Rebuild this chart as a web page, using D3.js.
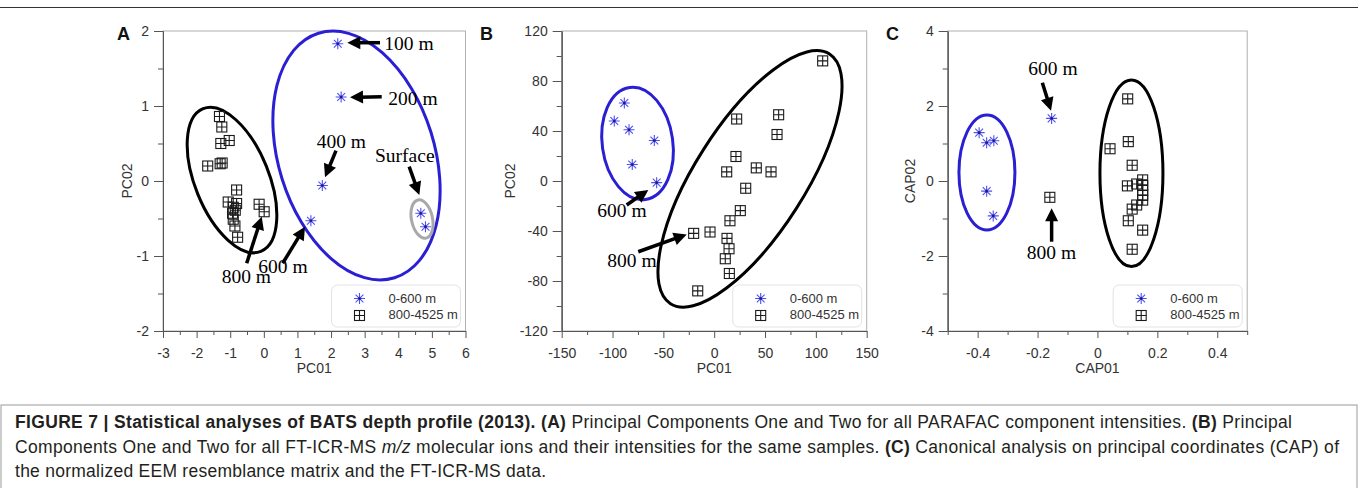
<!DOCTYPE html>
<html lang="en">
<head>
<meta charset="UTF-8">
<title>Figure 7</title>
<script src="https://d3js.org/d3.v7.min.js"></script>
<style>
  body { margin: 0; background: #fff; }
  svg { display: block; }
</style>
</head>
<body>
<div id="chart"></div>
<script>
// legend labels
const seriesNames = ["0-600 m", "800-4525 m"];

// panel A: PC01 vs PC02, PARAFAC intensities
const aShallow = [[2.20, 1.83], [2.30, 1.12], [1.74, -0.06], [1.40, -0.53], [4.67, -0.43], [4.81, -0.61]];
const aDeep = [[-1.32, 0.86], [-1.25, 0.72], [-1.28, 0.50], [-1.03, 0.54], [-1.67, 0.20], [-1.30, 0.23],
  [-1.24, 0.24], [-0.81, -0.12], [-1.06, -0.28], [-0.81, -0.30], [-0.91, -0.35], [-0.85, -0.39],
  [-0.93, -0.43], [-0.91, -0.51], [-0.86, -0.60], [-0.78, -0.75], [-0.14, -0.31], [0.01, -0.41]];
const aXTicks = [-3, -2, -1, 0, 1, 2, 3, 4, 5, 6];
const aXMinor = [-2.5, -1.5, -0.5, 0.5, 1.5, 2.5, 3.5, 4.5, 5.5];
const aYTicks = [-2, -1, 0, 1, 2];
const aYMinor = [-1.5, -0.5, 0.5, 1.5];

// panel B: PC01 vs PC02, FT-ICR-MS
const bShallow = [[-88.4, 62.4], [-98.3, 48.0], [-83.8, 41.0], [-58.9, 32.4], [-80.6, 13.2], [-56.6, -1.3]];
const bDeep = [[106.7, 96.1], [22.1, 49.6], [63.4, 53.0], [61.8, 37.2], [21.4, 19.6], [12.3, 7.3],
  [41.4, 10.5], [55.9, 7.3], [31.0, -5.8], [25.7, -23.7], [15.5, -31.8], [-20.2, -41.9], [-4.1, -40.8],
  [12.6, -45.9], [14.6, -54.2], [10.9, -62.2], [14.9, -74.0], [-16.2, -87.9]];
const bXTicks = [-150, -100, -50, 0, 50, 100, 150];
const bXMinor = [-125, -75, -25, 25, 75, 125];
const bYTicks = [-120, -80, -40, 0, 40, 80, 120];
const bYMinor = [-100, -60, -20, 20, 60, 100];

// panel C: CAP01 vs CAP02
const cShallow = [[-0.395, 1.29], [-0.370, 1.02], [-0.346, 1.075], [-0.370, -0.27], [-0.348, -0.93], [-0.153, 1.67]];
const cDeep = [[-0.159, -0.435], [0.101, 2.19], [0.103, 1.05], [0.042, 0.86], [0.116, 0.42], [0.100, -0.13],
  [0.131, -0.08], [0.151, 0.03], [0.151, -0.12], [0.151, -0.25], [0.151, -0.38], [0.151, -0.51],
  [0.131, -0.64], [0.116, -0.75], [0.103, -1.06], [0.151, -1.31], [0.116, -1.82]];
const cXTicks = [-0.4, -0.2, 0, 0.2, 0.4];
const cXMinor = [-0.5, -0.3, -0.1, 0.1, 0.3, 0.5];
const cYTicks = [-4, -2, 0, 2, 4];
const cYMinor = [-3, -1, 1, 3];

// caption lines, [text, style]
const captionLines = [
  [["FIGURE 7 | Statistical analyses of BATS depth profile (2013). ", "b"], ["(A)", "b"],
   [" Principal Components One and Two for all PARAFAC component intensities. ", ""], ["(B)", "b"], [" Principal", ""]],
  [["Components One and Two for all FT-ICR-MS ", ""], ["m/z", "i"],
   [" molecular ions and their intensities for the same samples. ", ""], ["(C)", "b"],
   [" Canonical analysis on principal coordinates (CAP) of", ""]],
  [["the normalized EEM resemblance matrix and the FT-ICR-MS data.", ""]]
];

const W = 1358, H = 488;
const plotTop = 31, plotBottom = 331;
const sans = "'Liberation Sans', Arial, sans-serif";
const serif = "'Liberation Serif', 'Times New Roman', serif";

const svg = d3.select("#chart").append("svg")
  .attr("width", W).attr("height", H)
  .style("background", "#fff");

// top rule
svg.append("line").attr("x1", 0).attr("x2", W).attr("y1", 7.5).attr("y2", 7.5)
  .attr("stroke", "#333").attr("stroke-width", 1.2);

function star(sel) {
  sel.append("path")
    .attr("d", "M-5.5,0H5.5M0,-5.5V5.5M-3.9,-3.9L3.9,3.9M-3.9,3.9L3.9,-3.9")
    .attr("stroke", "#4f4ff2").attr("stroke-width", 1.1);
  sel.append("circle").attr("r", 1.3).attr("fill", "#1b1b80");
}

function box(sel) {
  sel.append("rect").attr("x", -5).attr("y", -5).attr("width", 10).attr("height", 10)
    .attr("fill", "none").attr("stroke", "#1a1a1a").attr("stroke-width", 1.1);
  sel.append("path").attr("d", "M-5,0H5M0,-5V5")
    .attr("stroke", "#1a1a1a").attr("stroke-width", 1.1);
}

function drawPanel(p) {
  const x = d3.scaleLinear().domain(p.xDomain).range([p.left, p.right]);
  const y = d3.scaleLinear().domain(p.yDomain).range([plotBottom, plotTop]);
  const g = svg.append("g");

  // frame
  g.append("rect")
    .attr("x", p.left).attr("y", plotTop)
    .attr("width", p.right - p.left).attr("height", plotBottom - plotTop)
    .attr("fill", "none").attr("stroke", "#b0b0b0");

  // axes
  const fmt = d => String(d);
  const styleAxis = a => {
    a.selectAll("line").attr("stroke", "#555");
    a.select(".domain").attr("stroke", "#555");
    a.selectAll("text").attr("font-family", sans).attr("font-size", 14).attr("fill", "#333");
  };
  g.append("g").attr("transform", `translate(0,${plotBottom})`)
    .call(d3.axisBottom(x).tickValues(p.xTicks).tickSize(7).tickPadding(10).tickSizeOuter(0).tickFormat(fmt))
    .call(styleAxis);
  g.append("g").attr("transform", `translate(0,${plotBottom})`)
    .call(d3.axisBottom(x).tickValues(p.xMinor).tickSize(4).tickSizeOuter(0).tickFormat(""))
    .call(styleAxis);
  g.append("g").attr("transform", `translate(${p.left},0)`)
    .call(d3.axisLeft(y).tickValues(p.yTicks).tickSize(9).tickPadding(5).tickSizeOuter(0).tickFormat(fmt))
    .call(styleAxis);
  g.append("g").attr("transform", `translate(${p.left},0)`)
    .call(d3.axisLeft(y).tickValues(p.yMinor).tickSize(5).tickSizeOuter(0).tickFormat(""))
    .call(styleAxis);

  // axis titles
  g.append("text")
    .attr("x", (p.left + p.right) / 2).attr("y", 373)
    .attr("text-anchor", "middle").attr("font-family", sans).attr("font-size", 14).attr("fill", "#333")
    .text(p.xTitle);
  g.append("text")
    .attr("transform", `translate(${p.left + p.yTitleOffset + 5},${(plotTop + plotBottom) / 2}) rotate(-90)`)
    .attr("text-anchor", "middle").attr("font-family", sans).attr("font-size", 14).attr("fill", "#333")
    .text(p.yTitle);

  // panel letter
  g.append("text")
    .attr("x", p.letterX).attr("y", 39.5)
    .attr("font-family", sans).attr("font-weight", "bold").attr("font-size", 18).attr("fill", "#111")
    .text(p.letter);

  // group ellipses
  g.selectAll(".ell").data(p.ellipses).join("ellipse")
    .attr("class", "ell")
    .attr("rx", d => d.rx).attr("ry", d => d.ry)
    .attr("transform", d => `translate(${x(d.cx)},${y(d.cy)}) rotate(${d.rot})`)
    .attr("fill", "none").attr("stroke", d => d.color).attr("stroke-width", 3);

  // points
  g.selectAll(".deep").data(p.deep).join("g")
    .attr("class", "deep")
    .attr("transform", d => `translate(${x(d[0])},${y(d[1])})`)
    .each(function () { box(d3.select(this)); });
  g.selectAll(".shallow").data(p.shallow).join("g")
    .attr("class", "shallow")
    .attr("transform", d => `translate(${x(d[0])},${y(d[1])})`)
    .each(function () { star(d3.select(this)); });

  // depth annotations
  p.arrows.forEach(a => {
    const x1 = x(a[0]), y1 = y(a[1]), x2 = x(a[2]), y2 = y(a[3]);
    const len = Math.hypot(x2 - x1, y2 - y1);
    const ux = (x2 - x1) / len, uy = (y2 - y1) / len;
    g.append("line")
      .attr("x1", x1).attr("y1", y1).attr("x2", x2 - ux * 9).attr("y2", y2 - uy * 9)
      .attr("stroke", "#000").attr("stroke-width", 3.5);
    const bx = x2 - ux * 13, by = y2 - uy * 13;
    g.append("path")
      .attr("d", `M${x2},${y2}L${bx - uy * 6.5},${by + ux * 6.5}L${bx + uy * 6.5},${by - ux * 6.5}Z`)
      .attr("fill", "#000");
  });
  g.selectAll(".lab").data(p.labels).join("text")
    .attr("class", "lab")
    .attr("x", d => x(d[1])).attr("y", d => y(d[2]))
    .attr("font-family", serif).attr("font-size", 19.5).attr("fill", "#000")
    .text(d => d[0]);

  // legend
  const lg = g.append("g").attr("transform", `translate(${p.right - 134},285)`);
  lg.append("rect").attr("width", 129).attr("height", 42).attr("rx", 6)
    .attr("fill", "#fff").attr("stroke", "#e3e3e3");
  star(lg.append("g").attr("transform", "translate(28,13.5)"));
  box(lg.append("g").attr("transform", "translate(28,30.5)"));
  lg.selectAll(".lt").data(seriesNames).join("text")
    .attr("class", "lt")
    .attr("x", 57).attr("y", (d, i) => 18 + i * 16.3)
    .attr("font-family", sans).attr("font-size", 13).attr("fill", "#333")
    .text(d => d);
}

drawPanel({
  letter: "A", letterX: 117,
  left: 163, right: 465.5,
  xDomain: [-3, 6], yDomain: [-2, 2],
  xTicks: aXTicks, xMinor: aXMinor, yTicks: aYTicks, yMinor: aYMinor,
  xTitle: "PC01", yTitle: "PC02", yTitleOffset: -36,
  shallow: aShallow, deep: aDeep,
  ellipses: [
    { cx: -0.947, cy: 0.013, rx: 77, ry: 37, rot: 68, color: "#000" },
    { cx: 2.757, cy: 0.34, rx: 128, ry: 78, rot: 72.7, color: "#2a1fd2" },
    { cx: 4.706, cy: -0.507, rx: 19.5, ry: 10.5, rot: 78, color: "#a9a9a9" }
  ],
  arrows: [
    [3.456, 1.844, 2.484, 1.844], [3.507, 1.124, 2.564, 1.116], [2.147, 0.404, 1.82, 0.049],
    [4.324, 0.191, 4.626, -0.187], [0.561, -1.097, 1.225, -0.609], [-0.51, -1.097, -0.063, -0.476]
  ],
  labels: [
    ["100 m", 3.585, 1.747], ["200 m", 3.703, 1.013], ["400 m", 1.573, 0.444],
    ["Surface", 3.308, 0.257], ["600 m", -0.165, -1.223], ["800 m", -1.254, -1.356]
  ]
});

drawPanel({
  letter: "B", letterX: 480,
  left: 561.7, right: 866.7,
  xDomain: [-150, 150], yDomain: [-120, 120],
  xTicks: bXTicks, xMinor: bXMinor, yTicks: bYTicks, yMinor: bYMinor,
  xTitle: "PC01", yTitle: "PC02", yTitleOffset: -52,
  shallow: bShallow, deep: bDeep,
  ellipses: [
    { cx: -75.4, cy: 30.0, rx: 56.6, ry: 35.3, rot: 82, color: "#2a1fd2" },
    { cx: 35.2, cy: 1.7, rx: 148, ry: 55, rot: -57.5, color: "#000" }
  ],
  arrows: [[-86.1, -19.2, -64.8, -7.1], [-74.7, -56.6, -27.0, -42.7]],
  labels: [["600 m", -115, -28.6], ["800 m", -105.1, -68.7]]
});

drawPanel({
  letter: "C", letterX: 886,
  left: 947.7, right: 1247.2,
  xDomain: [-0.5, 0.5], yDomain: [-4, 4],
  xTicks: cXTicks, xMinor: cXMinor, yTicks: cYTicks, yMinor: cYMinor,
  xTitle: "CAP01", yTitle: "CAP02", yTitleOffset: -38,
  shallow: cShallow, deep: cDeep,
  ellipses: [
    { cx: -0.369, cy: 0.227, rx: 28, ry: 57.5, rot: 0, color: "#2a1fd2" },
    { cx: 0.1135, cy: 0.205, rx: 31.5, ry: 93.3, rot: 0, color: "#000" }
  ],
  arrows: [[-0.184, 2.621, -0.155, 1.875], [-0.153, -1.619, -0.153, -0.728]],
  labels: [["600 m", -0.231, 2.827], ["800 m", -0.236, -2.088]]
});

// caption box
svg.append("rect").attr("x", 1).attr("y", 405).attr("width", W - 2).attr("height", 100)
  .attr("fill", "none").attr("stroke", "#9a9a9a").attr("stroke-width", 1);

const lineWidths = [1277, 1324, 531];
captionLines.forEach((parts, i) => {
  const t = svg.append("text")
    .attr("x", 15).attr("y", 428 + i * 24.5)
    .attr("font-family", sans).attr("font-size", 17.5).attr("fill", "#231f20")
    .attr("textLength", lineWidths[i]).attr("lengthAdjust", "spacing")
    .style("white-space", "pre");
  parts.forEach(([txt, st]) => {
    t.append("tspan")
      .attr("font-weight", st === "b" ? "bold" : null)
      .attr("font-style", st === "i" ? "italic" : null)
      .text(txt);
  });
});
</script>
</body>
</html>
